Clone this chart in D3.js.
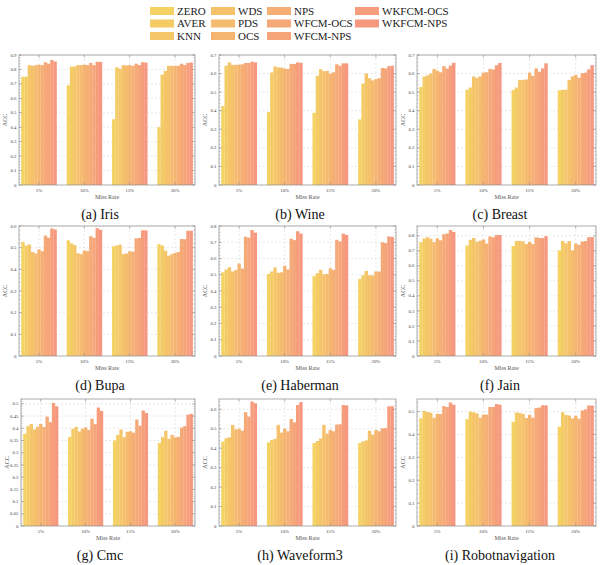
<!DOCTYPE html>
<html><head><meta charset="utf-8">
<script src="https://cdn.jsdelivr.net/npm/d3@7"></script>
<style>
html,body{margin:0;padding:0;background:#fff;}
svg{display:block;font-family:"Liberation Serif","Times New Roman",serif;}
</style></head>
<body><svg id="c" width="600" height="565"></svg>
<script>
// ---------------- data ----------------
const series = ["ZERO","AVER","KNN","WDS","PDS","OCS","NPS","WFCM-OCS","WFCM-NPS","WKFCM-OCS","WKFCM-NPS"];
const rates = ["5%","10%","15%","20%"];
const captions = ["(a) Iris","(b) Wine","(c) Breast","(d) Bupa","(e) Haberman","(f) Jain","(g) Cmc","(h) Waveform3","(i) Robotnavigation"];

// each dataset: one row per miss rate, 11 values (series order)
const iris = [
  [0.750,0.750,0.830,0.825,0.830,0.833,0.830,0.850,0.840,0.865,0.855],
  [0.690,0.820,0.820,0.830,0.830,0.833,0.830,0.845,0.830,0.853,0.852],
  [0.455,0.815,0.805,0.830,0.828,0.830,0.825,0.840,0.830,0.850,0.848],
  [0.400,0.765,0.790,0.825,0.825,0.825,0.825,0.840,0.830,0.845,0.848]];
const wine = [
  [0.425,0.642,0.660,0.647,0.647,0.648,0.650,0.657,0.657,0.664,0.660],
  [0.392,0.606,0.638,0.633,0.632,0.627,0.625,0.652,0.652,0.660,0.658],
  [0.389,0.588,0.624,0.613,0.614,0.600,0.607,0.650,0.642,0.655,0.655],
  [0.353,0.546,0.600,0.575,0.563,0.570,0.575,0.630,0.628,0.640,0.642]];
const breast = [
  [0.528,0.584,0.590,0.600,0.625,0.616,0.607,0.640,0.627,0.643,0.658],
  [0.513,0.525,0.584,0.577,0.585,0.605,0.607,0.625,0.622,0.645,0.657],
  [0.512,0.525,0.566,0.566,0.568,0.605,0.587,0.628,0.610,0.628,0.655],
  [0.510,0.513,0.513,0.565,0.585,0.593,0.578,0.602,0.605,0.623,0.645]];
const bupa = [
  [0.527,0.510,0.515,0.480,0.473,0.492,0.484,0.556,0.546,0.589,0.584],
  [0.534,0.520,0.512,0.474,0.470,0.487,0.484,0.553,0.545,0.590,0.583],
  [0.506,0.510,0.514,0.470,0.473,0.483,0.482,0.543,0.545,0.580,0.580],
  [0.516,0.510,0.486,0.463,0.470,0.476,0.480,0.540,0.539,0.578,0.578]];
const haberman = [
  [0.515,0.532,0.546,0.520,0.530,0.569,0.538,0.734,0.728,0.775,0.759],
  [0.505,0.520,0.545,0.512,0.515,0.555,0.532,0.722,0.713,0.768,0.754],
  [0.492,0.510,0.530,0.502,0.505,0.540,0.530,0.715,0.705,0.753,0.745],
  [0.474,0.497,0.523,0.497,0.496,0.520,0.520,0.700,0.695,0.736,0.733]];
const jain = [
  [0.758,0.782,0.790,0.780,0.758,0.783,0.770,0.810,0.815,0.838,0.826],
  [0.735,0.773,0.785,0.760,0.767,0.775,0.748,0.795,0.790,0.805,0.805],
  [0.732,0.766,0.766,0.763,0.745,0.760,0.745,0.790,0.785,0.785,0.797],
  [0.703,0.765,0.750,0.765,0.703,0.748,0.740,0.762,0.765,0.790,0.792]];
const cmc = [
  [0.378,0.409,0.418,0.395,0.406,0.418,0.405,0.448,0.425,0.504,0.490],
  [0.365,0.398,0.406,0.387,0.398,0.404,0.393,0.439,0.417,0.485,0.471],
  [0.350,0.373,0.395,0.364,0.386,0.388,0.382,0.436,0.411,0.473,0.463],
  [0.340,0.364,0.390,0.357,0.373,0.363,0.365,0.403,0.409,0.456,0.459]];
const waveform3 = [
  [0.434,0.451,0.456,0.520,0.497,0.500,0.490,0.585,0.563,0.640,0.631],
  [0.430,0.442,0.448,0.520,0.480,0.500,0.487,0.550,0.533,0.622,0.637],
  [0.427,0.437,0.450,0.520,0.475,0.494,0.487,0.522,0.523,0.622,0.620],
  [0.427,0.435,0.440,0.490,0.470,0.494,0.487,0.502,0.503,0.615,0.616]];
const robot = [
  [0.471,0.503,0.498,0.495,0.473,0.490,0.489,0.524,0.520,0.540,0.530],
  [0.467,0.500,0.497,0.492,0.473,0.487,0.487,0.520,0.520,0.533,0.530],
  [0.455,0.496,0.494,0.490,0.472,0.486,0.473,0.515,0.518,0.528,0.527],
  [0.434,0.497,0.485,0.483,0.470,0.482,0.469,0.505,0.510,0.527,0.526]];

const datasets = [iris, wine, breast, bupa, haberman, jain, cmc, waveform3, robot];
const yTop = [0.9,0.7,0.7,0.6,0.8,0.865,0.52,0.653,0.555];
const yStep = [0.1,0.1,0.1,0.1,0.1,0.1,0.05,0.1,0.1];

// ---------------- layout ----------------
const svg = d3.select("#c");
const colX = [[19,195],[219,396],[417,596]];
const rowY = [[55,185],[226,356],[399,526]];
const color = d3.scaleOrdinal().domain(series)
  .range(series.map((s,i)=>d3.interpolateRgb("#f4d263","#f6987f")(i/(series.length-1))));

// legend
const leg = svg.append("g");
const legCols = [150,211,267,355];
series.forEach((s,i)=>{
  const c = Math.floor(i/3), r = i%3;
  const x = legCols[c], y = 11 + r*12.5;
  leg.append("rect").attr("x",x).attr("y",y-4).attr("width",24).attr("height",8).attr("fill",color(s));
  leg.append("text").attr("x",x+27).attr("y",y+3.8).attr("font-size",11).attr("fill","#222").text(s);
});

datasets.forEach((data,k)=>{
  const ci = k%3, ri = Math.floor(k/3);
  const x0 = colX[ci][0] + (k===6?2:0), x1 = colX[ci][1];
  const y0 = rowY[ri][0], y1 = rowY[ri][1];
  const g = svg.append("g");
  const xb = d3.scaleBand().domain(rates).range([x0,x1]).paddingInner(0.22).paddingOuter(0.05);
  const xs = d3.scaleBand().domain(series).range([0,xb.bandwidth()]).padding(0);
  const y = d3.scaleLinear().domain([0,yTop[k]]).range([y1,y0]);
  const ticks = d3.range(0, yTop[k]+1e-9, yStep[k]).map(v=>+v.toFixed(3));
  // grid
  g.selectAll("line.gy").data(ticks.slice(1)).join("line")
    .attr("x1",x0).attr("x2",x1).attr("y1",d=>y(d)).attr("y2",d=>y(d))
    .attr("stroke","#d0d0d0").attr("stroke-width",0.5).attr("stroke-dasharray","2,2");
  g.selectAll("line.gx").data(rates).join("line")
    .attr("x1",d=>xb(d)+xb.bandwidth()/2).attr("x2",d=>xb(d)+xb.bandwidth()/2)
    .attr("y1",y0).attr("y2",y1)
    .attr("stroke","#d0d0d0").attr("stroke-width",0.5).attr("stroke-dasharray","2,2");
  // bars
  rates.forEach((r,ri2)=>{
    g.append("g").attr("transform",`translate(${xb(r)},0)`)
      .selectAll("rect").data(data[ri2]).join("rect")
      .attr("x",(d,i)=>xs(series[i])).attr("width",xs.bandwidth()+0.15)
      .attr("y",d=>y(d)).attr("height",d=>y1-y(d))
      .attr("fill",(d,i)=>color(series[i]));
  });
  // frame
  g.append("rect").attr("x",x0).attr("y",y0).attr("width",x1-x0).attr("height",y1-y0)
    .attr("fill","none").attr("stroke","#8a8a8a").attr("stroke-width",0.7);
  // y ticks (left/right, inward) + minor
  const minor = d3.range(0, yTop[k]+1e-9, yStep[k]/5);
  g.selectAll("line.mn").data(minor).join("line")
    .attr("x1",x0).attr("x2",x0+1.5).attr("y1",d=>y(d)).attr("y2",d=>y(d))
    .attr("stroke","#8a8a8a").attr("stroke-width",0.4);
  g.selectAll("line.mn2").data(minor).join("line")
    .attr("x1",x1).attr("x2",x1-1.5).attr("y1",d=>y(d)).attr("y2",d=>y(d))
    .attr("stroke","#8a8a8a").attr("stroke-width",0.4);
  g.selectAll("line.mj").data(ticks).join("line")
    .attr("x1",x0).attr("x2",x0+3).attr("y1",d=>y(d)).attr("y2",d=>y(d))
    .attr("stroke","#8a8a8a").attr("stroke-width",0.5);
  g.selectAll("line.mj2").data(ticks).join("line")
    .attr("x1",x1).attr("x2",x1-3).attr("y1",d=>y(d)).attr("y2",d=>y(d))
    .attr("stroke","#8a8a8a").attr("stroke-width",0.5);
  // x ticks
  g.selectAll("line.xt").data(rates).join("line")
    .attr("x1",d=>xb(d)+xb.bandwidth()/2).attr("x2",d=>xb(d)+xb.bandwidth()/2)
    .attr("y1",y1).attr("y2",y1-3).attr("stroke","#8a8a8a").attr("stroke-width",0.5);
  g.selectAll("line.xt2").data(rates).join("line")
    .attr("x1",d=>xb(d)+xb.bandwidth()/2).attr("x2",d=>xb(d)+xb.bandwidth()/2)
    .attr("y1",y0).attr("y2",y0+3).attr("stroke","#8a8a8a").attr("stroke-width",0.5);
  // tick labels
  const fmt = v => v===0 ? "0" : d3.format("")(v);
  g.selectAll("text.yl").data(ticks).join("text")
    .attr("x",x0-2.5).attr("y",d=>y(d)+1.6).attr("text-anchor","end")
    .attr("font-size",4.8).attr("fill","#444").text(fmt);
  g.selectAll("text.xl").data(rates).join("text")
    .attr("x",d=>xb(d)+xb.bandwidth()/2).attr("y",y1+7).attr("text-anchor","middle")
    .attr("font-size",4.8).attr("fill","#444").text(d=>d);
  // axis titles
  g.append("text").attr("x",(x0+x1)/2).attr("y",y1+13.5).attr("text-anchor","middle")
    .attr("font-size",6).attr("fill","#555").text("Miss Rate");
  g.append("text").attr("transform",`translate(${x0-12},${(y0+y1)/2}) rotate(-90)`)
    .attr("text-anchor","middle").attr("font-size",6).attr("fill","#555").text("ACC");
  // caption
  g.append("text").attr("x",100+ci*200).attr("y",y1+34).attr("text-anchor","middle")
    .attr("font-size",14).attr("fill","#111").text(captions[k]);
});
</script></body></html>
